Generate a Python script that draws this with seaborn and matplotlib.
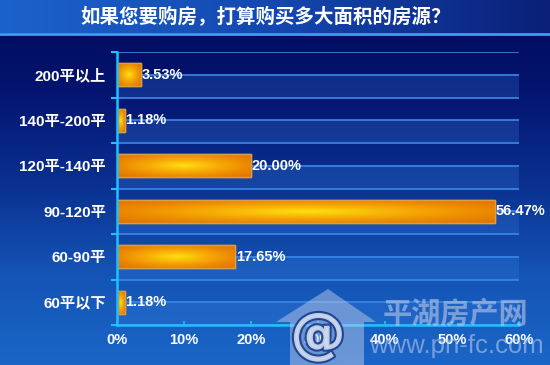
import numpy as np
import pandas as pd
import matplotlib
matplotlib.use("Agg")
import matplotlib.pyplot as plt
import seaborn as sns
from matplotlib.colors import LinearSegmentedColormap
from matplotlib.patches import Polygon, Rectangle
import matplotlib.patheffects as pe

# ---- data ----
categories = ["200平以上", "140平-200平", "120平-140平", "90-120平", "60-90平", "60平以下"]
values = [3.53, 1.18, 20.00, 56.47, 17.65, 1.18]
value_labels = ["3.53%", "1.18%", "20.00%", "56.47%", "17.65%", "1.18%"]
x_ticks = [0, 10, 20, 30, 40, 50, 60]
x_tick_labels = ["0%", "10%", "20%", "30%", "40%", "50%", "60%"]
title = "如果您要购房，打算购买多大面积的房源？"

sns.set_theme(style="white")
FAM = ["Liberation Sans", "Noto Sans CJK SC", "DejaVu Sans"]
plt.rcParams["font.family"] = FAM

df = pd.DataFrame({"cat": categories, "val": values})

fig = plt.figure(figsize=(5.5, 3.65), dpi=100)

# background gradient (figure)
bg = fig.add_axes([0, 0, 1, 1], zorder=-10)
grad = np.linspace(0, 1, 256).reshape(-1, 1)
bg_cmap = LinearSegmentedColormap.from_list("bg", ["#020a5a", "#041470", "#0a3090", "#1454b4", "#1a66c8"])
bg.imshow(grad, aspect="auto", cmap=bg_cmap, extent=[0, 1, 0, 1], origin="upper")
bg.set_axis_off()

# title band
tb = fig.add_axes([0, 1 - 33 / 365, 1, 33 / 365], zorder=-5)
hgrad = np.linspace(0, 1, 256).reshape(1, -1)
tb_cmap = LinearSegmentedColormap.from_list("tb", ["#1c62cc", "#1448b0", "#0a2078"])
tb.imshow(hgrad, aspect="auto", cmap=tb_cmap, extent=[0, 1, 0, 1])
tb.set_axis_off()
fig.add_artist(plt.Line2D([0, 1], [1 - 34 / 365, 1 - 34 / 365], color="#3aa0f0", lw=2, transform=fig.transFigure))
fig.text(0.483, 1 - 16.5 / 365, title, ha="center", va="center", color="white",
         fontsize=14, family=["Noto Sans CJK SC", "DejaVu Sans"], fontweight="bold")

# main axes
ax = fig.add_axes([117 / 550, 1 - 325 / 365, (519 - 117) / 550, (325 - 52) / 365])
ax.set_facecolor("none")
sns.barplot(data=df, x="val", y="cat", orient="h", width=0.5, ax=ax,
            color="#e88a00", edgecolor="#d8a040", linewidth=1.0, zorder=3)
bars = list(ax.patches)

n = len(categories)
ax.set_xlim(0, 60)
ax.set_ylim(n - 0.5, -0.5)

# alternating lighter bands and gridlines
for i in range(n):
    ax.axhspan(i, i + 0.5, color="#3a80e0", alpha=0.25, lw=0, zorder=0)
for y in np.arange(-0.5, n, 0.5):
    ax.axhline(y, color="#3a88e8", lw=1.2, zorder=1)

# gradient fill on bars
yy, xx = np.mgrid[-1:1:60j, -1:1:200j]
r = np.sqrt(xx ** 2 + yy ** 2) / np.sqrt(2)
bar_cmap = LinearSegmentedColormap.from_list("bar", ["#ffe010", "#f8b008", "#ec8a00", "#e07000"])
for p in bars:
    x0, y0, w, h = p.get_x(), p.get_y(), p.get_width(), p.get_height()
    im = ax.imshow(r, cmap=bar_cmap, vmin=0, vmax=1, aspect="auto",
                   extent=[x0, x0 + w, y0 + h, y0], zorder=3.5, interpolation="bilinear")
    im.set_clip_path(p)
    ax.add_patch(Rectangle((x0, y0), w, h, fill=False, edgecolor="#d8a040", lw=1.0, zorder=4))

# value labels
for i, (v, lab) in enumerate(zip(values, value_labels)):
    ax.text(v + 0.1, i, lab, va="center", ha="left", color="white",
            fontsize=10.5, fontweight="bold", zorder=5, family=FAM)

ax.set_xticks(x_ticks)
ax.set_xticklabels(x_tick_labels, color="white", fontsize=10.5, fontweight="bold")
ax.set_yticks(range(n))
ax.set_yticklabels(categories, color="white", fontsize=11, fontweight="bold")
ax.set_yticks(np.arange(-0.5, n, 1), minor=True)
ax.tick_params(axis="y", which="major", length=0, pad=8)
ax.tick_params(axis="y", which="minor", length=4, color="#20c0ff", width=1.5, direction="out", left=True)
ax.tick_params(axis="x", which="major", length=3, color="#20c0ff", width=1.2, direction="in", pad=6, bottom=True)
ax.set_xlabel("")
ax.set_ylabel("")
for s in ["top", "right"]:
    ax.spines[s].set_visible(False)
for s in ["left", "bottom"]:
    ax.spines[s].set_color("#20c0ff")
    ax.spines[s].set_linewidth(1.8)
    ax.spines[s].set_zorder(6)

# watermark
wm_color = "#b8c8e8"
house = Polygon([(290 / 550, 1 - 365 / 365), (290 / 550, 1 - 322 / 365), (276 / 550, 1 - 322 / 365),
                 (328 / 550, 1 - 289 / 365), (376 / 550, 1 - 322 / 365), (364 / 550, 1 - 322 / 365),
                 (364 / 550, 1 - 365 / 365)],
                closed=True, transform=fig.transFigure, facecolor=wm_color, alpha=0.5, edgecolor="none", zorder=8)
fig.add_artist(house)
fig.text(318 / 550, 1 - 337 / 365, "@", ha="center", va="center", fontsize=40, color="#d0dcf0",
         alpha=0.9, fontweight="bold", family="DejaVu Sans", zorder=9,
         path_effects=[pe.withStroke(linewidth=3, foreground="#1a3c8a")])
fig.text(455 / 550, 1 - 314 / 365, "平湖房产网", ha="center", va="center", fontsize=21, color=wm_color,
         alpha=0.6, fontweight="bold", family=["Noto Sans CJK SC", "DejaVu Sans"], zorder=9)
fig.text(456 / 550, 1 - 346 / 365, "www.pn-fc.com", ha="center", va="center", fontsize=18.5, color=wm_color,
         alpha=0.6, family="Liberation Sans", zorder=9)

fig.savefig("out.png", dpi=100)
